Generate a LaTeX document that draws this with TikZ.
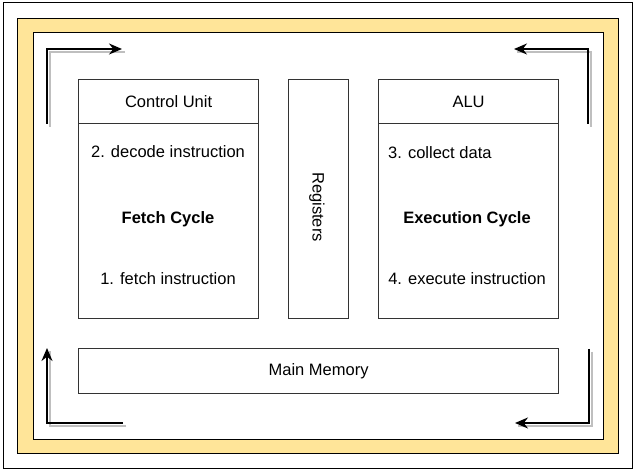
\documentclass[tikz,border=0pt]{standalone}
\usepackage{fontspec}
\setmainfont{Liberation Sans}
\usetikzlibrary{arrows.meta}
\definecolor{frameyellow}{HTML}{FFE599}
\tikzset{
    part/.style={draw=black!80, line width=1.2pt, fill=white, inner sep=0pt,
        anchor=north west, font=\fontsize{16.5}{20}\selectfont},
    txt/.style={inner sep=0pt, font=\fontsize{16.5}{20}\selectfont},
    flow/.style={line width=1.5pt, -{Stealth[length=13pt,width=11pt]}},
    flowshadow/.style={line width=1.5pt, black!25},
}

\begin{document}
\begin{tikzpicture}[x=1pt,y=-1pt]
    \useasboundingbox (0,0) rectangle (635,470);
    \fill[white] (0,0) rectangle (635,470);

    % frames
    \draw[line width=1pt] (3,3) rectangle (632,468);
    \draw[line width=1pt, fill=frameyellow] (17,19) rectangle (618,453);
    \draw[line width=1pt, fill=white] (33,33) rectangle (603,439);

    % units
    \node[part, minimum width=180, minimum height=44] (cuhead) at (78,79) {Control Unit};
    \node[part, minimum width=180, minimum height=195] (cubody) at (78,123) {};
    \node[part, minimum width=60, minimum height=239] (regs) at (288,79) {};
    \node[part, minimum width=180, minimum height=44] (aluhead) at (378,79) {ALU};
    \node[part, minimum width=180, minimum height=195] (alubody) at (378,123) {};
    \node[part, minimum width=480, minimum height=45] (mem) at (78,348) {Main Memory};

    \node[txt, rotate=-90] (regstxt) at (317,207) {Registers};
    \node[txt] (decode) at (168,152) {2. decode instruction};
    \node[txt] (fetchcyc) at (168,219) {\bfseries Fetch Cycle};
    \node[txt] (fetch) at (168,279) {1. fetch instruction};
    \node[txt, anchor=west] (collect) at (388,153) {3. collect data};
    \node[txt] (execcyc) at (467,219) {\bfseries Execution Cycle};
    \node[txt] (execute) at (467,279) {4. execute instruction};

    % cycle arrows
    \coordinate (tla) at (47,124);
    \coordinate (tlb) at (47,49);
    \coordinate (tlc) at (122,49);
    \coordinate (tra) at (588,124);
    \coordinate (trb) at (588,49);
    \coordinate (trc) at (514,49);
    \coordinate (bla) at (123,423);
    \coordinate (blb) at (47,423);
    \coordinate (blc) at (47,348);
    \coordinate (bra) at (589,349);
    \coordinate (brb) at (589,423);
    \coordinate (brc) at (515,423);

    \foreach \a/\b/\c in {tla/tlb/tlc, tra/trb/trc, bla/blb/blc, bra/brb/brc}
    {
        \draw[flowshadow] ([shift={(3,3)}]\a) -- ([shift={(3,3)}]\b)
            -- ([shift={(3,3)}]\c);
        \draw[flow] (\a) -- (\b) -- (\c);
    }
\end{tikzpicture}
\end{document}
